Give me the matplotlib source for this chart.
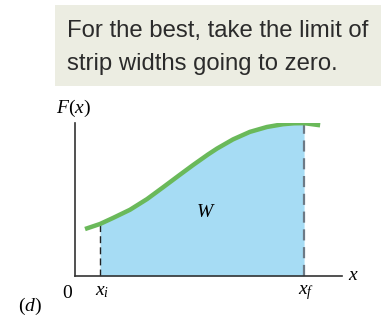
import matplotlib
matplotlib.use("Agg")
import matplotlib.pyplot as plt
from matplotlib.patches import Rectangle

plt.rcParams['mathtext.fontset'] = 'custom'
plt.rcParams['mathtext.rm'] = 'Liberation Serif'
plt.rcParams['mathtext.it'] = 'Liberation Serif:italic'

# data (arbitrary units)
curve_x = [0.375, 0.936, 1.42, 2.06, 2.70, 3.30, 3.93, 4.42, 4.98, 5.32, 5.92,
           6.55, 7.19, 7.79, 8.2, 8.58, 9.18]
curve_y = [3.07, 3.40, 3.79, 4.33, 5.03, 5.80, 6.62, 7.25, 7.94, 8.33, 8.93,
           9.42, 9.74, 9.92, 9.98, 9.99, 9.85]
x_i = 0.936
x_f = 8.58
caption_lines = ["For the best, take the limit of", "strip widths going to zero."]

W, H = 381, 322
fig = plt.figure(figsize=(W / 100, H / 100), dpi=100)

def fx(px):
    return px / W

def fy(py):
    return 1 - py / H

# caption box
fig.patches.append(Rectangle((fx(55), fy(86)), fx(381) - fx(55), fy(5) - fy(86),
                             transform=fig.transFigure, facecolor='#ecede2',
                             edgecolor='none', zorder=0))
fig.text(fx(67), fy(37), caption_lines[0], fontsize=17.2, family='Liberation Sans',
         color='#2b2b2b', va='baseline', ha='left')
fig.text(fx(67), fy(70), caption_lines[1], fontsize=17.2, family='Liberation Sans',
         color='#2b2b2b', va='baseline', ha='left')

ax = fig.add_axes([fx(75), fy(276), fx(342) - fx(75), fy(123) - fy(276)])
ax.set_xlim(0, 10)
ax.set_ylim(0, 10)
ax.patch.set_alpha(0)
for s in ['top', 'right']:
    ax.spines[s].set_visible(False)
for s in ['left', 'bottom']:
    ax.spines[s].set_color('#333333')
    ax.spines[s].set_linewidth(1.2)
ax.set_xticks([])
ax.set_yticks([])

fx_pts = [(x, y) for x, y in zip(curve_x, curve_y) if x_i <= x <= x_f]
ax.fill_between([p[0] for p in fx_pts], [p[1] for p in fx_pts], 0,
                color='#a6dcf4', lw=0, zorder=1)
ax.plot(curve_x, curve_y, color='#6ab95a', lw=3.2, solid_capstyle='butt',
        solid_joinstyle='round', zorder=3)
yi = curve_y[curve_x.index(x_i)]
yf = curve_y[curve_x.index(x_f)]
ax.plot([x_i, x_i], [0, yi], color='#222222', lw=1.0, ls=(0, (5, 3)), zorder=2)
ax.plot([x_f, x_f], [0, yf], color='#6d7a86', lw=1.6, ls=(0, (5, 3)), zorder=2)

ax.text(4.9, 4.2, r'$W$', fontsize=14, ha='center', va='center')

fig.text(fx(73), fy(108), r'$F(x)$', fontsize=14, ha='center', va='center')
fig.text(fx(353), fy(274), r'$x$', fontsize=14, ha='center', va='center')
fig.text(fx(68), fy(292), r'$0$', fontsize=14, ha='center', va='center')
fig.text(fx(102), fy(291), r'$x_i$', fontsize=14, ha='center', va='center')
fig.text(fx(306), fy(292), r'$x_f$', fontsize=14, ha='center', va='center')
fig.text(fx(30), fy(306), r'$(d)$', fontsize=14, ha='center', va='center')

fig.savefig('out.png', dpi=100)
